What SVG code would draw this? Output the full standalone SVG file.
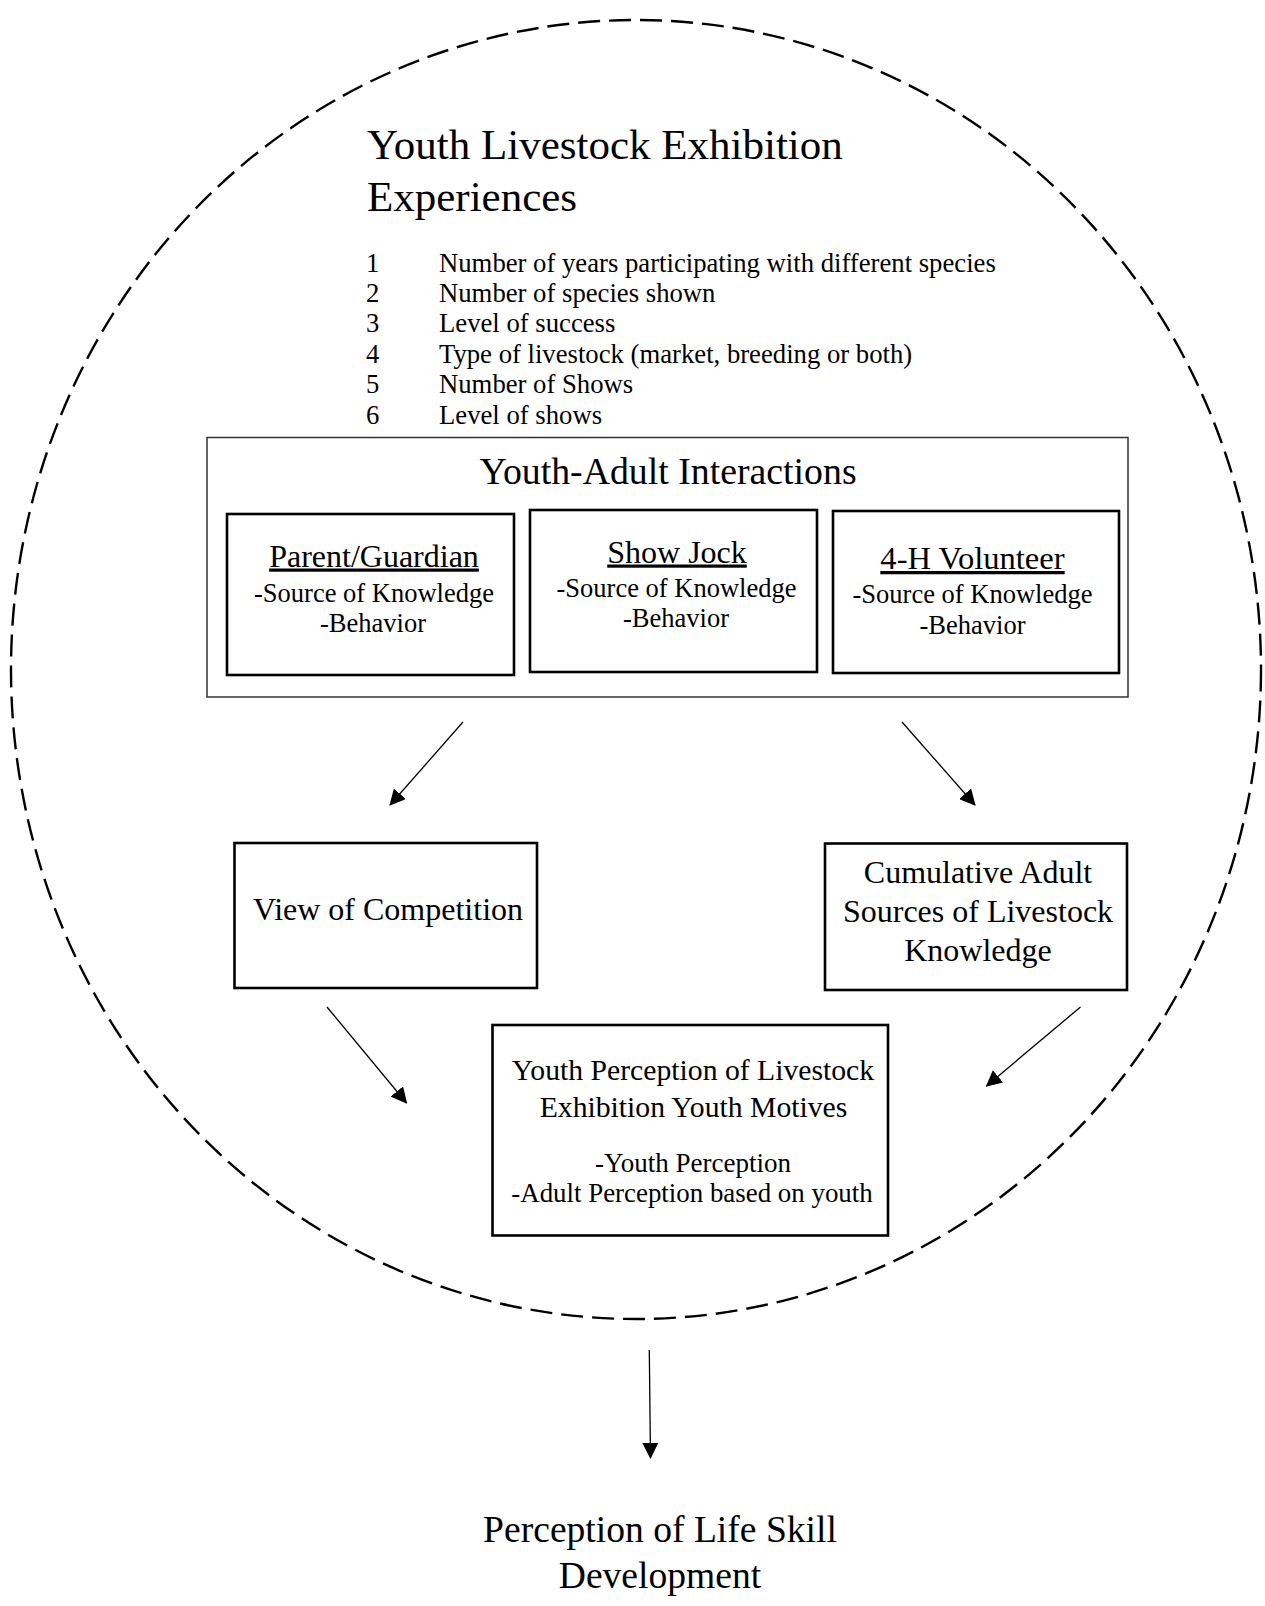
<svg xmlns="http://www.w3.org/2000/svg" width="1265" height="1606" viewBox="0 0 1265 1606">
<defs>
<style>
text{font-family:"Liberation Serif","Times New Roman",serif;fill:#000}
.box{fill:#fff;stroke:#000;stroke-width:2.6}
.outer{fill:#fff;stroke:#333;stroke-width:1.5}
.conn{stroke:#000;stroke-width:1.3;fill:none}
.h{font-size:32px;text-anchor:middle}
.s{font-size:26.5px;text-anchor:middle}
.li{font-size:26.7px}
</style>
<marker id="ah" markerUnits="userSpaceOnUse" markerWidth="16" markerHeight="16" viewBox="0 0 16 16" refX="15" refY="8" orient="auto">
<path d="M0,0 L16,8 L0,16 Z" fill="#000"/>
</marker>
</defs>
<rect width="1265" height="1606" fill="#fff"/>
<ellipse id="boundary" cx="636" cy="669.5" rx="625" ry="649.5" fill="none" stroke="#000" stroke-width="2.4" stroke-dasharray="22 9"/>

<g id="experiences">
<text x="367" y="159" font-size="43">Youth Livestock Exhibition</text>
<text x="367" y="211" font-size="43">Experiences</text>
<g class="li">
<text x="366" y="271.5" class="li">1</text><text x="439" y="271.5" class="li">Number of years participating with different species</text>
<text x="366" y="301.9" class="li">2</text><text x="439" y="301.9" class="li">Number of species shown</text>
<text x="366" y="332.3" class="li">3</text><text x="439" y="332.3" class="li">Level of success</text>
<text x="366" y="362.7" class="li">4</text><text x="439" y="362.7" class="li">Type of livestock (market, breeding or both)</text>
<text x="366" y="393.1" class="li">5</text><text x="439" y="393.1" class="li">Number of Shows</text>
<text x="366" y="423.5" class="li">6</text><text x="439" y="423.5" class="li">Level of shows</text>
</g>
</g>

<g id="youth-adult">
<rect class="outer" x="207" y="437.5" width="921" height="259.5"/>
<text x="668" y="484" font-size="37.8" text-anchor="middle">Youth-Adult Interactions</text>
</g>

<g id="parent">
<rect class="box" x="227" y="514" width="287" height="161"/>
<text class="h" x="374" y="566.5" text-decoration="underline">Parent/Guardian</text>
<text class="s" x="374" y="601.5">-Source of Knowledge</text>
<text class="s" x="373" y="631.5">-Behavior</text>
</g>

<g id="showjock">
<rect class="box" x="530" y="510" width="287" height="162"/>
<text class="h" x="677" y="562.5" text-decoration="underline">Show Jock</text>
<text class="s" x="676.5" y="597">-Source of Knowledge</text>
<text class="s" x="676" y="627">-Behavior</text>
</g>

<g id="volunteer">
<rect class="box" x="833" y="511" width="286" height="162"/>
<text x="972.5" y="569" font-size="32.6" text-anchor="middle" text-decoration="underline">4-H Volunteer</text>
<text class="s" x="972.5" y="603">-Source of Knowledge</text>
<text class="s" x="972.5" y="634">-Behavior</text>
</g>

<g id="competition">
<rect class="box" x="234.5" y="843" width="302.5" height="145"/>
<text class="h" x="388" y="920">View of Competition</text>
</g>

<g id="cumulative">
<rect class="box" x="825" y="843.5" width="302" height="146.5"/>
<text class="h" x="978" y="883">Cumulative Adult</text>
<text class="h" x="978" y="922">Sources of Livestock</text>
<text class="h" x="978" y="961">Knowledge</text>
</g>

<g id="perception">
<rect class="box" x="492.5" y="1025" width="395.5" height="210.5"/>
<text x="693" y="1080" font-size="29.7" text-anchor="middle">Youth Perception of Livestock</text>
<text x="693.5" y="1117" font-size="29.7" text-anchor="middle">Exhibition Youth Motives</text>
<text x="693" y="1172" font-size="27" text-anchor="middle">-Youth Perception</text>
<text x="692" y="1202" font-size="26.9" text-anchor="middle">-Adult Perception based on youth</text>
</g>

<g id="lifeskill">
<text x="660" y="1542" font-size="37.6" text-anchor="middle">Perception of Life Skill</text>
<text x="660" y="1588" font-size="37.6" text-anchor="middle">Development</text>
</g>

<g id="connectors">
<line class="conn" x1="463" y1="722" x2="390" y2="805" marker-end="url(#ah)"/>
<line class="conn" x1="902" y1="722" x2="975" y2="805" marker-end="url(#ah)"/>
<line class="conn" x1="327" y1="1007" x2="406.5" y2="1103" marker-end="url(#ah)"/>
<line class="conn" x1="1080.5" y1="1007" x2="986.5" y2="1086" marker-end="url(#ah)"/>
<line class="conn" x1="649.3" y1="1350" x2="650.5" y2="1458" marker-end="url(#ah)"/>
</g>
</svg>
